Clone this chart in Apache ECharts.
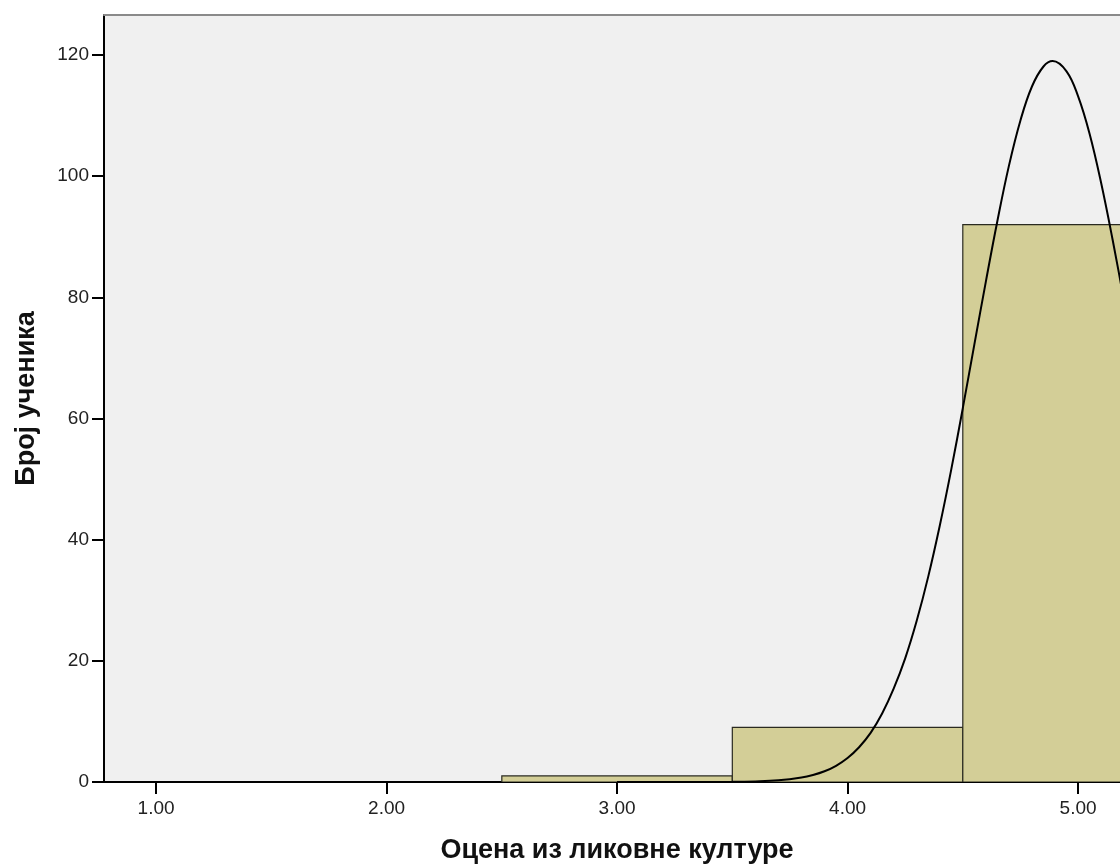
<!DOCTYPE html>
<html>
<head>
<meta charset="utf-8">
<script src="https://cdn.jsdelivr.net/npm/echarts@6/dist/echarts.min.js"></script>
<style>
html,body{margin:0;padding:0;background:#fff;}
#c{width:1120px;height:867px;}
</style>
</head>
<body>
<div id="c"></div>
<script>
// Histogram bins: [start, end, count]
var binStarts = [2.5, 3.5, 4.5];
var binEnds = [3.5, 4.5, 5.5];
var binCounts = [1, 9, 92];

// Normal curve points
var curveX = [3.0, 3.5, 3.6, 3.7, 3.8, 3.85, 3.9, 3.95, 4.0, 4.05, 4.1, 4.15, 4.2, 4.25, 4.3, 4.35, 4.4, 4.45, 4.5, 4.55, 4.6, 4.65, 4.7, 4.75, 4.8, 4.85, 4.89, 4.95, 5.0, 5.05, 5.1, 5.15, 5.2, 5.25, 5.3, 5.35, 5.4, 5.45, 5.5];
var curveY = [0, 0.03, 0.09, 0.27, 0.73, 1.15, 1.77, 2.68, 3.96, 5.74, 8.1, 11.3, 15.4, 20.4, 26.6, 33.9, 42.3, 51.6, 61.7, 72.2, 82.6, 92.6, 101.7, 109.2, 114.8, 118.1, 119.0, 117.3, 113.2, 107.0, 98.9, 89.5, 79.3, 68.8, 58.4, 48.6, 39.5, 31.4, 24.5];

var xTicks = [1, 2, 3, 4, 5];
var yTicks = [0, 20, 40, 60, 80, 100, 120];

var xTitle = 'Оцена из ликовне културе';
var yTitle = 'Број ученика';

var bars = binStarts.map(function (s, i) { return [s, binEnds[i], binCounts[i]]; });
var curve = curveX.map(function (x, i) { return [x, curveY[i]]; });

var chart = echarts.init(document.getElementById('c'), null, {renderer: 'canvas'});
var font = '"Liberation Sans", Arial, sans-serif';
var xMin = 0.774, xMax = 5.182;
chart.setOption({
  animation: false,
  backgroundColor: '#ffffff',
  grid: {
    left: 104, top: 15, bottom: 85, right: 0,
    outerBoundsMode: 'none', containLabel: false,
    show: true, backgroundColor: '#f0f0f0', borderWidth: 0
  },
  xAxis: [{
    type: 'value', min: xMin, max: xMax,
    splitLine: {show: false},
    axisLine: {show: true, onZero: false, lineStyle: {color: '#000', width: 2}},
    axisTick: {show: true, length: 12, lineStyle: {color: '#000', width: 2}, customValues: xTicks},
    axisLabel: {customValues: xTicks, margin: 17, color: '#222', fontSize: 19, fontFamily: font,
      formatter: function (v) { return v.toFixed(2); }},
    name: xTitle, nameLocation: 'middle', nameGap: 55,
    nameTextStyle: {fontSize: 27, fontWeight: 'bold', color: '#111', fontFamily: font, padding: [0, 0, 0, 10]}
  }, {
    type: 'value', min: xMin, max: xMax, position: 'top',
    splitLine: {show: false},
    axisLine: {show: true, onZero: false, lineStyle: {color: '#8a8a8a', width: 2}},
    axisTick: {show: false},
    axisLabel: {show: false}
  }],
  yAxis: {
    type: 'value', min: 0, max: 126.6,
    splitLine: {show: false},
    axisLine: {show: true, lineStyle: {color: '#000', width: 2}},
    axisTick: {show: true, length: 12, lineStyle: {color: '#000', width: 2}, customValues: yTicks},
    axisLabel: {customValues: yTicks, margin: 15, color: '#222', fontSize: 19, fontFamily: font},
    name: yTitle, nameLocation: 'middle', nameGap: 64, nameRotate: 90,
    nameTextStyle: {fontSize: 27, fontWeight: 'bold', color: '#111', fontFamily: font}
  },
  series: [
    {
      type: 'custom',
      data: bars,
      clip: true,
      renderItem: function (params, api) {
        var p0 = api.coord([api.value(0), api.value(2)]);
        var p1 = api.coord([api.value(1), 0]);
        return {
          type: 'rect',
          shape: {x: p0[0], y: p0[1], width: p1[0] - p0[0], height: p1[1] - p0[1]},
          style: {fill: '#d3ce97', stroke: '#2a2a20', lineWidth: 1.2}
        };
      },
      encode: {x: [0, 1], y: 2},
      z: 2
    },
    {
      type: 'line',
      data: curve,
      smooth: 0.4,
      showSymbol: false,
      symbol: 'none',
      clip: true,
      lineStyle: {color: '#000', width: 2},
      z: 3
    }
  ]
});
</script>
</body>
</html>
